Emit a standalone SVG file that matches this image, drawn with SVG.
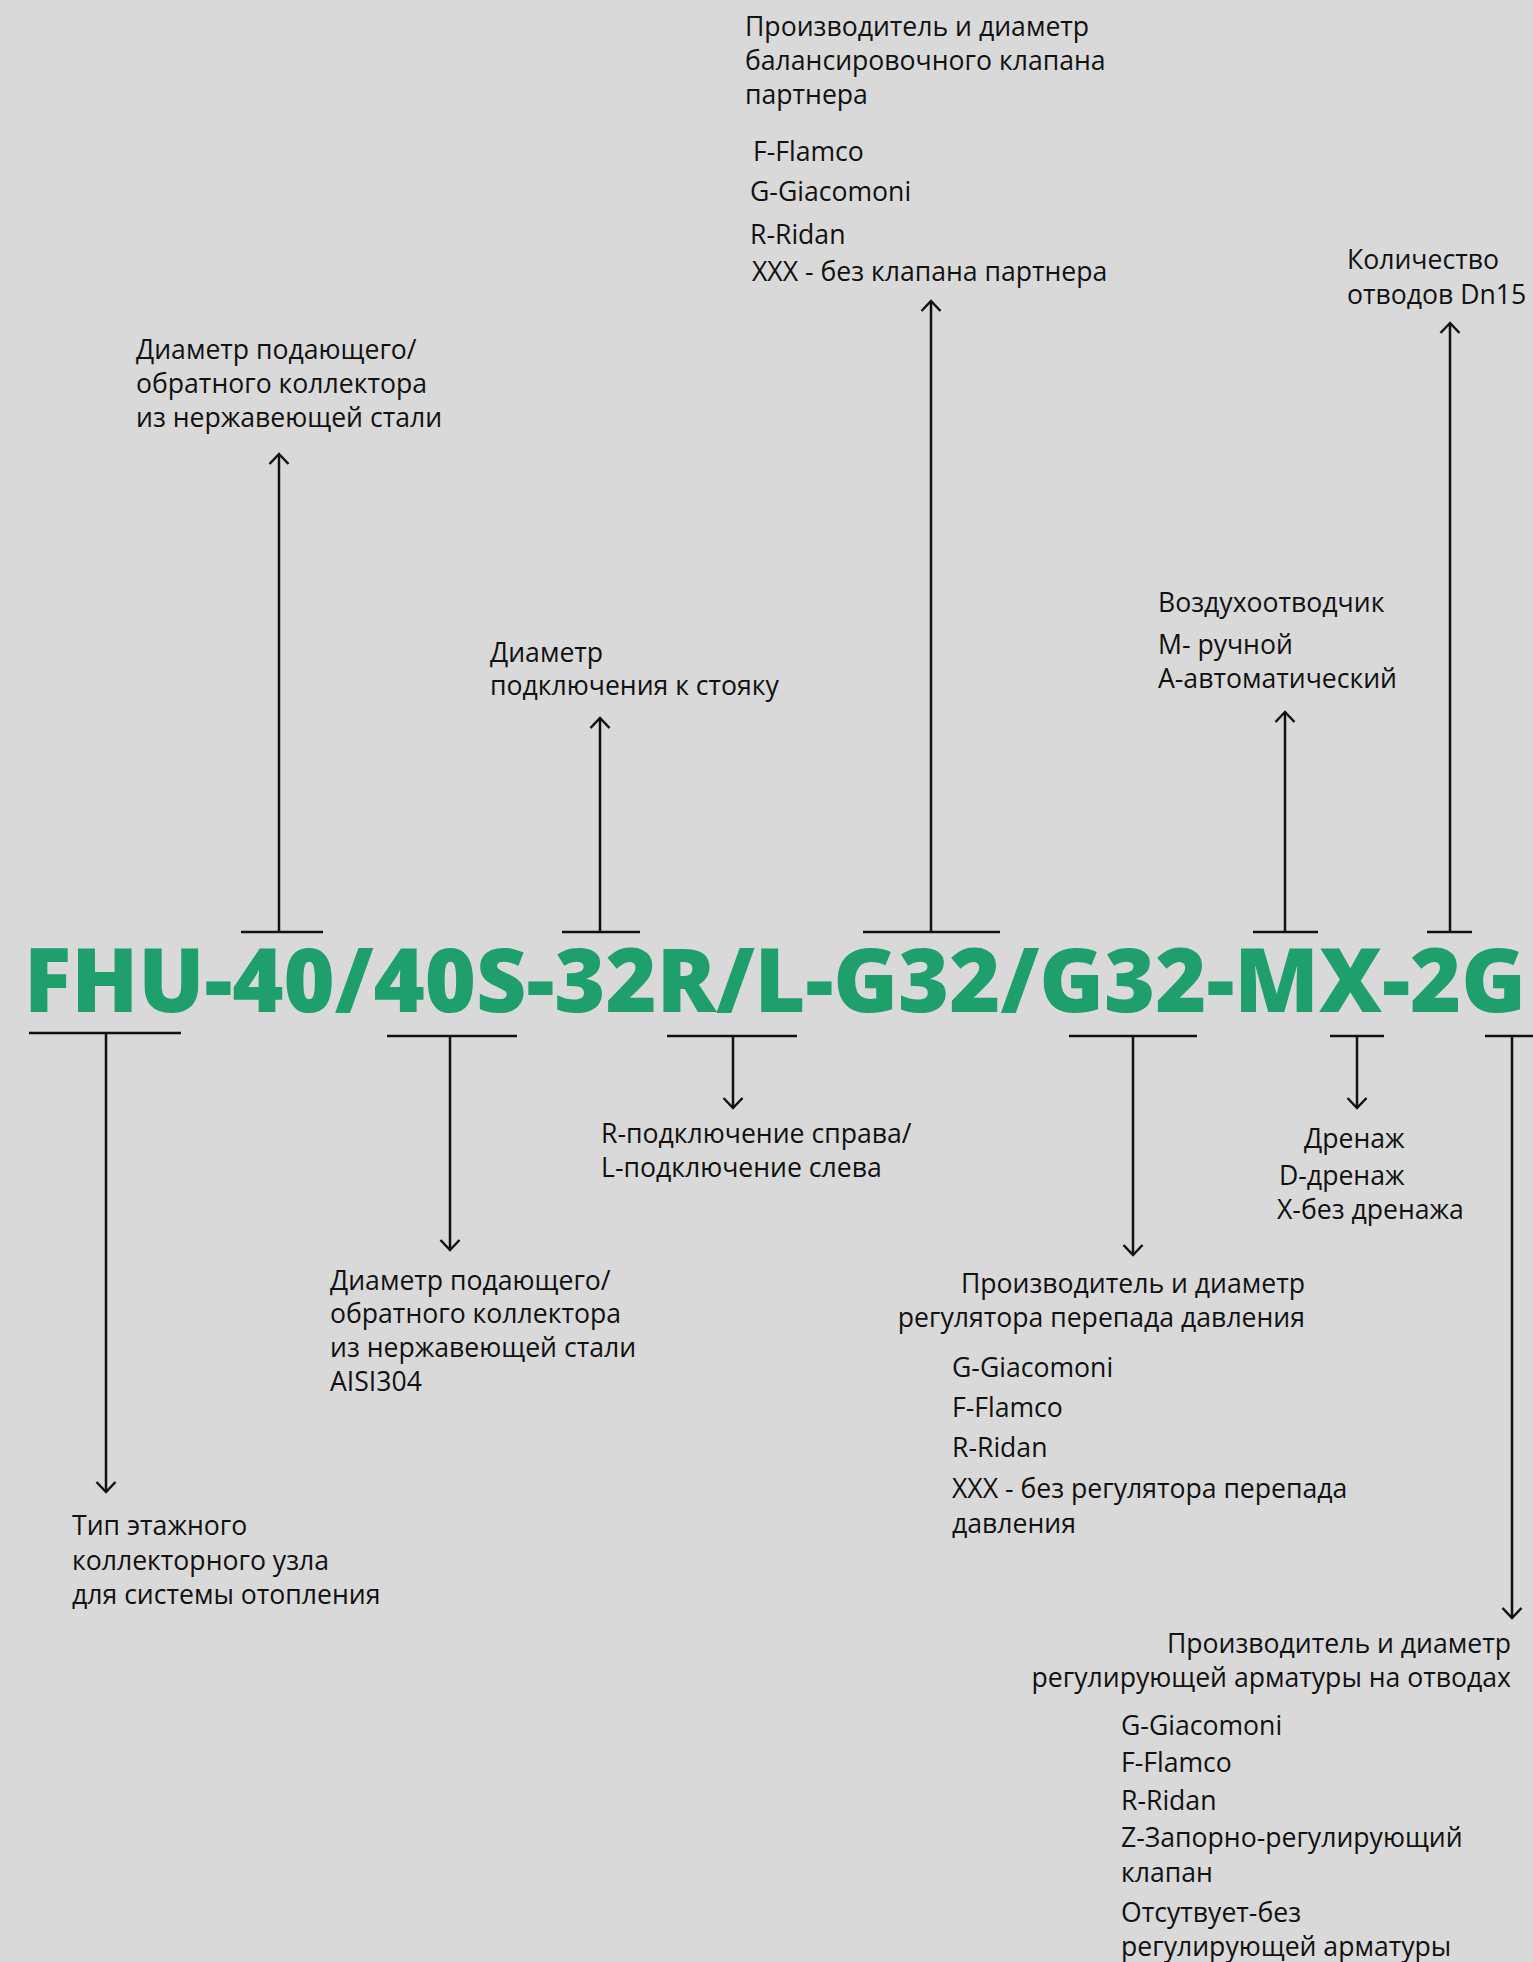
<svg xmlns="http://www.w3.org/2000/svg" width="1533" height="1962" viewBox="0 0 1533 1962">
<style>
.t{font-family:"Open Sans","Noto Sans","DejaVu Sans",sans-serif;font-size:26.6px;fill:#111}
.e{text-anchor:end}
.title{font-family:"Open Sans","Noto Sans",sans-serif;font-weight:800;font-size:89px;fill:#1e9f6b}
.c line{stroke:#111;stroke-width:2.5;fill:none}
</style>
<defs>
<marker id="ah" viewBox="-14 -14 28 28" markerWidth="28" markerHeight="28" refX="0" refY="0" orient="auto" markerUnits="userSpaceOnUse">
<path d="M-10,-9.5 L0,0 L-10,9.5" fill="none" stroke="#111" stroke-width="2.5"/>
</marker>
</defs>
<rect x="0" y="0" width="1533" height="1962" fill="#d9d9d9"/>
<g id="code"><text class="title" x="24" y="1012" textLength="1502" lengthAdjust="spacingAndGlyphs">FHU-40/40S-32R/L-G32/G32-MX-2G</text></g>
<g id="connectors" class="c">
<line x1="241" y1="932" x2="323" y2="932"/>
<line x1="279" y1="932" x2="279" y2="454" marker-end="url(#ah)"/>
<line x1="562" y1="932" x2="640" y2="932"/>
<line x1="600" y1="932" x2="600" y2="718" marker-end="url(#ah)"/>
<line x1="863" y1="932" x2="1000" y2="932"/>
<line x1="931" y1="932" x2="931" y2="301" marker-end="url(#ah)"/>
<line x1="1253" y1="932" x2="1318" y2="932"/>
<line x1="1285" y1="932" x2="1285" y2="712" marker-end="url(#ah)"/>
<line x1="1427" y1="932" x2="1472" y2="932"/>
<line x1="1450" y1="932" x2="1450" y2="323" marker-end="url(#ah)"/>
<line x1="29" y1="1033" x2="181" y2="1033"/>
<line x1="106" y1="1033" x2="106" y2="1492" marker-end="url(#ah)"/>
<line x1="387" y1="1036" x2="517" y2="1036"/>
<line x1="450" y1="1036" x2="450" y2="1250" marker-end="url(#ah)"/>
<line x1="667" y1="1036" x2="797" y2="1036"/>
<line x1="733" y1="1036" x2="733" y2="1108" marker-end="url(#ah)"/>
<line x1="1069" y1="1036" x2="1197" y2="1036"/>
<line x1="1133" y1="1036" x2="1133" y2="1255" marker-end="url(#ah)"/>
<line x1="1330" y1="1036" x2="1384" y2="1036"/>
<line x1="1357" y1="1036" x2="1357" y2="1108" marker-end="url(#ah)"/>
<line x1="1485" y1="1036" x2="1533" y2="1036"/>
<line x1="1512" y1="1036" x2="1512" y2="1618" marker-end="url(#ah)"/>
</g>
<g id="n-collector-top">
<text class="t" x="136" y="359">Диаметр подающего/</text>
<text class="t" x="136" y="393">обратного коллектора</text>
<text class="t" x="136" y="427">из нержавеющей стали</text>
</g>
<g id="n-riser">
<text class="t" x="490" y="662">Диаметр</text>
<text class="t" x="490" y="695">подключения к стояку</text>
</g>
<g id="n-balancing">
<text class="t" x="745" y="36">Производитель и диаметр</text>
<text class="t" x="745" y="70">балансировочного клапана</text>
<text class="t" x="745" y="104">партнера</text>
<text class="t" x="753" y="161">F-Flamco</text>
<text class="t" x="750" y="201">G-Giacomoni</text>
<text class="t" x="750" y="244">R-Ridan</text>
<text class="t" x="752" y="281">XXX - без клапана партнера</text>
</g>
<g id="n-air">
<text class="t" x="1158" y="612">Воздухоотводчик</text>
<text class="t" x="1158" y="654">М- ручной</text>
<text class="t" x="1158" y="688">А-автоматический</text>
</g>
<g id="n-outlets">
<text class="t" x="1347" y="269">Количество</text>
<text class="t" x="1347" y="304">отводов Dn15</text>
</g>
<g id="n-type">
<text class="t" x="72" y="1535">Тип этажного</text>
<text class="t" x="72" y="1570">коллекторного узла</text>
<text class="t" x="72" y="1604">для системы отопления</text>
</g>
<g id="n-collector-bottom">
<text class="t" x="330" y="1290">Диаметр подающего/</text>
<text class="t" x="330" y="1323">обратного коллектора</text>
<text class="t" x="330" y="1357">из нержавеющей стали</text>
<text class="t" x="330" y="1391">AISI304</text>
</g>
<g id="n-side">
<text class="t" x="601" y="1143">R-подключение справа/</text>
<text class="t" x="601" y="1177">L-подключение слева</text>
</g>
<g id="n-regulator">
<text class="t e" x="1305" y="1293">Производитель и диаметр</text>
<text class="t e" x="1305" y="1327">регулятора перепада давления</text>
<text class="t" x="952" y="1377">G-Giacomoni</text>
<text class="t" x="952" y="1417">F-Flamco</text>
<text class="t" x="952" y="1457">R-Ridan</text>
<text class="t" x="952" y="1498">XXX - без регулятора перепада</text>
<text class="t" x="952" y="1533">давления</text>
</g>
<g id="n-drain">
<text class="t" x="1304" y="1148">Дренаж</text>
<text class="t" x="1279" y="1185">D-дренаж</text>
<text class="t" x="1277" y="1219">X-без дренажа</text>
</g>
<g id="n-fittings">
<text class="t e" x="1511" y="1653">Производитель и диаметр</text>
<text class="t e" x="1511" y="1687">регулирующей арматуры на отводах</text>
<text class="t" x="1121" y="1735">G-Giacomoni</text>
<text class="t" x="1121" y="1772">F-Flamco</text>
<text class="t" x="1121" y="1810">R-Ridan</text>
<text class="t" x="1121" y="1847">Z-Запорно-регулирующий</text>
<text class="t" x="1121" y="1882">клапан</text>
<text class="t" x="1121" y="1922">Отсутвует-без</text>
<text class="t" x="1121" y="1956">регулирующей арматуры</text>
</g>
</svg>
